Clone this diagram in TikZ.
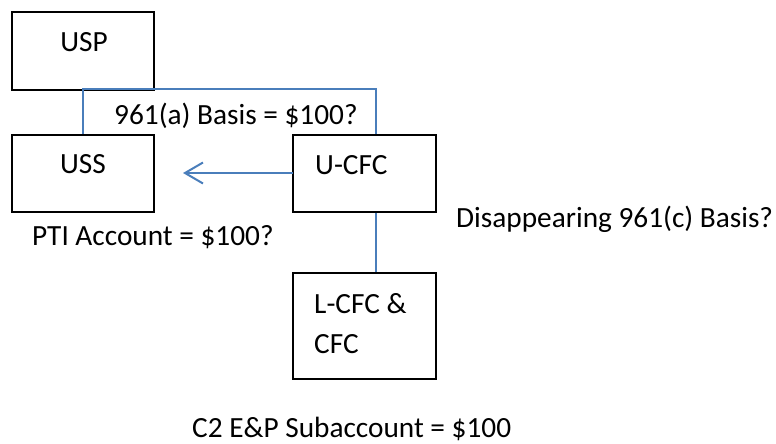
\documentclass[tikz,border=0pt]{standalone}
\usepackage{fontspec}
\setmainfont{Carlito}
\usetikzlibrary{arrows.meta,calc}
\definecolor{linkblue}{RGB}{74,126,187}
\tikzset{
  box/.style={draw=black, line width=2pt, fill=white, inner sep=0pt},
  conn/.style={draw=linkblue, line width=2pt},
  txt/.style={inner sep=0pt, font=\fontsize{29.3}{35}\selectfont},
}
\begin{document}
\begin{tikzpicture}[x=1pt, y=-1pt]
  \useasboundingbox (0,0) rectangle (776,444);

  % entity boxes
  \node[box, minimum width=142pt, minimum height=78pt] (usp)  at (83,51)    {};
  \node[box, minimum width=142pt, minimum height=77pt] (uss)  at (83,173.5) {};
  \node[box, minimum width=143pt, minimum height=77pt] (ucfc) at (364.5,173.5) {};
  \node[box, minimum width=143pt, minimum height=106pt] (lcfc) at (364.5,326) {};

  % box captions
  \node[txt, anchor=base] (tusp) at (84,52) {USP};
  \node[txt, anchor=base] (tuss) at (83,173) {USS};
  \node[txt, anchor=base west] (tucfc) at (315,174) {U-CFC};
  \node[txt, anchor=base west] (tlcfc1) at (314,313) {L-CFC \&};
  \node[txt, anchor=base west] (tlcfc2) at (314,353) {CFC};

  % ownership lines
  \coordinate (j) at (376,89);
  \draw[conn] (uss.north) |- (j) -- (j |- ucfc.north);
  \draw[conn] (j |- ucfc.south) -- (j |- lcfc.north);

  % distribution arrow
  \coordinate (src) at (293,173);
  \coordinate (tip) at (183,173);
  \draw[conn, -{Straight Barb[length=18pt, width=21pt, line width=2pt]}] (src) -- (tip);

  % annotations
  \node[txt, anchor=base west] (basisa) at (114,124) {961(a) Basis = \$100?};
  \node[txt, anchor=base west] (pti) at (32,245) {PTI Account = \$100?};
  \node[txt, anchor=base west] (basisc) at (456,227) {Disappearing 961(c) Basis?};
  \node[txt, anchor=base west] (c2) at (192,437) {C2 E\&P Subaccount = \$100};
\end{tikzpicture}
\end{document}
